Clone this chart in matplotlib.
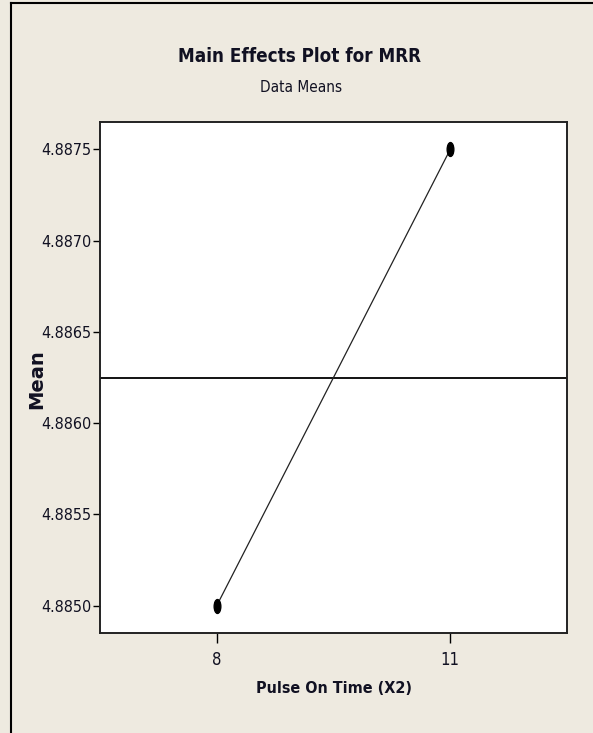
import matplotlib
matplotlib.use("Agg")
import matplotlib.pyplot as plt
from matplotlib.lines import Line2D
from matplotlib.path import Path
from matplotlib.transforms import Affine2D

# pulse-on-time levels and the MRR mean at each level
LEVELS = [8, 11]
MEANS = [4.8850, 4.8875]
GRAND_MEAN = sum(MEANS) / len(MEANS)
YTICKS = [4.8850, 4.8855, 4.8860, 4.8865, 4.8870, 4.8875]

BG = "#eeeae0"
INK = "#111122"
W, H = 593, 733

fig = plt.figure(figsize=(W / 100, H / 100), dpi=100, facecolor=BG)
ax = fig.add_axes([100 / W, 1 - 633 / H, 467 / W, 511 / H])
ax.set_facecolor("white")

# tall narrow dot marker
dot = Path.unit_circle().transformed(Affine2D().scale(0.48, 1.0))

ax.axhline(GRAND_MEAN, color="black", lw=1.3, zorder=2)
ax.plot(LEVELS, MEANS, color="#222222", lw=0.9, zorder=3)
ax.plot(LEVELS, MEANS, ls="none", marker=dot, color="black", ms=10, zorder=4)

ax.set_xlim(6.5, 12.5)
ax.set_ylim(4.88485, 4.88765)
ax.set_xticks(LEVELS)
ax.set_xticklabels([str(v) for v in LEVELS], fontsize=12, stretch="condensed",
                   color=INK)
ax.set_yticks(YTICKS)
ax.set_yticklabels([f"{v:.4f}" for v in YTICKS], fontsize=11.5,
                   stretch="condensed", color=INK)
ax.tick_params(axis="x", length=7, width=1, color="black", pad=6)
ax.tick_params(axis="y", length=5, width=1, color="black", pad=1)
for s in ax.spines.values():
    s.set_linewidth(1.4)
    s.set_color("#222222")

ax.set_xlabel("Pulse On Time (X2)", fontsize=11.5, stretch="condensed",
              fontweight="bold", color=INK)
ax.xaxis.set_label_coords(0.5, -(681 - 633) / 511)
ax.xaxis.label.set_va("top")

fig.text(37 / W, 1 - 379 / H, "Mean", rotation=90, ha="center", va="center",
         fontsize=14, fontweight="bold", color=INK)

fig.text(300 / W, 1 - 56 / H, "Main Effects Plot for MRR", ha="center",
         va="center", fontsize=13.5, stretch="condensed", fontweight="bold",
         color=INK)
fig.text(301 / W, 1 - 88 / H, "Data Means", ha="center", va="center",
         fontsize=11, stretch="condensed", color=INK)

# outer frame on the left and top edges
fig.add_artist(Line2D([11 / W, 11 / W], [0, 1 - 3 / H], color="black", lw=1.5,
                      transform=fig.transFigure))
fig.add_artist(Line2D([11 / W, 1], [1 - 3 / H, 1 - 3 / H], color="black", lw=1.5,
                      transform=fig.transFigure))

fig.savefig("out.png", dpi=100, facecolor=BG)
